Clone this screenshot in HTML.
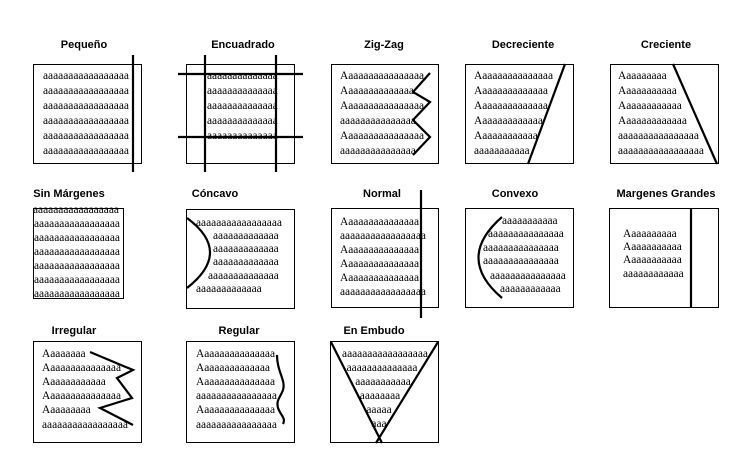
<!DOCTYPE html>
<html><head><meta charset="utf-8"><style>
html,body{margin:0;padding:0;background:#fff;}
svg{display:block;}
.l{font-family:"Liberation Sans",sans-serif;font-weight:bold;font-size:11px;text-anchor:middle;}
.t{font-family:"Liberation Serif",serif;font-size:11.4px;}
.b{fill:none;stroke:#000;stroke-width:1;}
.k{fill:none;stroke:#000;stroke-width:2.2;}
</style></head><body>
<svg width="740" height="463" viewBox="0 0 740 463" xmlns="http://www.w3.org/2000/svg">
<text class="l" x="84" y="48">Pequeño</text>
<text class="l" x="243" y="48">Encuadrado</text>
<text class="l" x="384" y="48">Zig-Zag</text>
<text class="l" x="523" y="48">Decreciente</text>
<text class="l" x="666" y="48">Creciente</text>
<text class="l" x="69" y="197">Sin Márgenes</text>
<text class="l" x="215" y="197">Cóncavo</text>
<text class="l" x="382" y="197">Normal</text>
<text class="l" x="515" y="197">Convexo</text>
<text class="l" x="666" y="197">Margenes Grandes</text>
<text class="l" x="74" y="334">Irregular</text>
<text class="l" x="239" y="334">Regular</text>
<text class="l" x="374" y="334">En Embudo</text>

<rect class="b" x="33.5" y="64.5" width="108" height="99"/>
<g class="t">
<text x="43" y="79">aaaaaaaaaaaaaaaaa</text><text x="43" y="94">aaaaaaaaaaaaaaaaa</text><text x="43" y="109">aaaaaaaaaaaaaaaaa</text>
<text x="43" y="124">aaaaaaaaaaaaaaaaa</text><text x="43" y="139">aaaaaaaaaaaaaaaaa</text><text x="43" y="154">aaaaaaaaaaaaaaaaa</text>
</g>
<line class="k" x1="133" y1="55" x2="133" y2="172"/>

<rect class="b" x="186.5" y="64.5" width="108" height="99"/>
<g class="t">
<text x="207" y="79">aaaaaaaaaaaaaa</text><text x="207" y="94">aaaaaaaaaaaaaa</text><text x="207" y="109">aaaaaaaaaaaaaa</text>
<text x="207" y="124">aaaaaaaaaaaaaa</text><text x="207" y="139">aaaaaaaaaaaaaa</text>
</g>
<line class="k" x1="205" y1="55" x2="205" y2="172"/>
<line class="k" x1="276" y1="55" x2="276" y2="172"/>
<line class="k" x1="178" y1="74" x2="303" y2="74"/>
<line class="k" x1="178" y1="137" x2="303" y2="137"/>

<rect class="b" x="331.5" y="64.5" width="107" height="99"/>
<g class="t">
<text x="340" y="79">Aaaaaaaaaaaaaaaa</text><text x="340" y="94">Aaaaaaaaaaaaaa</text><text x="340" y="109">Aaaaaaaaaaaaaaaa</text>
<text x="340" y="124">aaaaaaaaaaaaaaa</text><text x="340" y="139">Aaaaaaaaaaaaaaaa</text><text x="340" y="154">aaaaaaaaaaaaaaa</text>
</g>
<polyline class="k" points="430,73 413,92 430,102 413,120 430,137 413,155"/>

<rect class="b" x="465.5" y="64.5" width="108" height="99"/>
<g class="t">
<text x="474" y="79">Aaaaaaaaaaaaaaa</text><text x="474" y="94">Aaaaaaaaaaaaaa</text><text x="474" y="109">Aaaaaaaaaaaaaa</text>
<text x="474" y="124">Aaaaaaaaaaaaa</text><text x="474" y="139">Aaaaaaaaaaaa</text><text x="474" y="154">aaaaaaaaaaa</text>
</g>
<line class="k" x1="565" y1="64" x2="528" y2="164"/>

<rect class="b" x="610.5" y="64.5" width="108" height="99"/>
<g class="t">
<text x="618" y="79">Aaaaaaaaa</text><text x="618" y="94">Aaaaaaaaaaa</text><text x="618" y="109">Aaaaaaaaaaaa</text>
<text x="618" y="124">Aaaaaaaaaaaaa</text><text x="618" y="139">aaaaaaaaaaaaaaaa</text><text x="618" y="154">aaaaaaaaaaaaaaaaa</text>
</g>
<line class="k" x1="673" y1="64" x2="717" y2="164"/>

<rect class="b" x="33.5" y="208.5" width="90" height="90"/>
<g class="t">
<text x="33" y="213">aaaaaaaaaaaaaaaaa</text><text x="34" y="227">aaaaaaaaaaaaaaaaa</text><text x="34" y="241">aaaaaaaaaaaaaaaaa</text>
<text x="34" y="255">aaaaaaaaaaaaaaaaa</text><text x="34" y="269">aaaaaaaaaaaaaaaaa</text><text x="34" y="283">aaaaaaaaaaaaaaaaa</text>
<text x="34" y="297">aaaaaaaaaaaaaaaaa</text>
</g>

<rect class="b" x="186.5" y="209.5" width="108" height="99"/>
<g class="t">
<text x="196" y="226">aaaaaaaaaaaaaaaaa</text><text x="213" y="239">aaaaaaaaaaaaa</text><text x="213" y="252">aaaaaaaaaaaaa</text>
<text x="213" y="265">aaaaaaaaaaaaa</text><text x="208" y="279">aaaaaaaaaaaaaa</text><text x="196" y="292">aaaaaaaaaaaaa</text>
</g>
<path class="k" d="M187,218 Q233,252 187,288"/>

<rect class="b" x="331.5" y="208.5" width="107" height="99"/>
<g class="t">
<text x="340" y="225">Aaaaaaaaaaaaaaa</text><text x="340" y="239">aaaaaaaaaaaaaaaaa</text><text x="340" y="253">Aaaaaaaaaaaaaaa</text>
<text x="340" y="267">Aaaaaaaaaaaaaaa</text><text x="340" y="281">Aaaaaaaaaaaaaaa</text><text x="340" y="295">aaaaaaaaaaaaaaaaa</text>
</g>
<line class="k" x1="421" y1="190" x2="421" y2="318"/>

<rect class="b" x="465.5" y="208.5" width="108" height="99"/>
<g class="t">
<text x="502" y="224">aaaaaaaaaaa</text><text x="488" y="237">aaaaaaaaaaaaaaa</text><text x="483" y="251">aaaaaaaaaaaaaaa</text>
<text x="483" y="264">aaaaaaaaaaaaaaa</text><text x="490" y="279">aaaaaaaaaaaaaaa</text><text x="500" y="292">aaaaaaaaaaaa</text>
</g>
<path class="k" d="M502,217 Q455,258 502,298"/>

<rect class="b" x="609.5" y="208.5" width="109" height="99"/>
<g class="t">
<text x="623" y="237">Aaaaaaaaaa</text><text x="623" y="250">Aaaaaaaaaaa</text><text x="623" y="263">Aaaaaaaaaaa</text>
<text x="623" y="277">aaaaaaaaaaaa</text>
</g>
<line class="k" x1="691" y1="208" x2="691" y2="308"/>

<rect class="b" x="33.5" y="341.5" width="108" height="101"/>
<g class="t">
<text x="42" y="357">Aaaaaaaa</text><text x="42" y="371">Aaaaaaaaaaaaaaa</text><text x="42" y="385">Aaaaaaaaaaaa</text>
<text x="42" y="399">Aaaaaaaaaaaaaaa</text><text x="42" y="413">Aaaaaaaaa</text><text x="42" y="428">aaaaaaaaaaaaaaaaa</text>
</g>
<polyline class="k" points="90,352 133,370 117,378 132,398 100,408 133,425"/>

<rect class="b" x="186.5" y="341.5" width="108" height="101"/>
<g class="t">
<text x="196" y="357">Aaaaaaaaaaaaaaa</text><text x="196" y="371">Aaaaaaaaaaaaaa</text><text x="196" y="385">Aaaaaaaaaaaaaaa</text>
<text x="196" y="399">aaaaaaaaaaaaaaaa</text><text x="196" y="413">Aaaaaaaaaaaaaaa</text><text x="196" y="428">aaaaaaaaaaaaaaaa</text>
</g>
<path class="k" d="M277,355 C277,372 286,380 283,390 C280,398 276,400 278,408 C281,416 286,418 283,424"/>

<rect class="b" x="330.5" y="341.5" width="108" height="101"/>
<g class="t" text-anchor="middle">
<text x="385" y="357">aaaaaaaaaaaaaaaaa</text><text x="382" y="371">aaaaaaaaaaaaaa</text><text x="383" y="385">aaaaaaaaaaa</text>
<text x="380" y="399">aaaaaaaa</text><text x="379" y="413">aaaaa</text><text x="379" y="427">aaa</text>
</g>
<line class="k" x1="331" y1="342" x2="382" y2="443"/>
<line class="k" x1="438" y1="342" x2="376" y2="443"/>
</svg>
</body></html>
